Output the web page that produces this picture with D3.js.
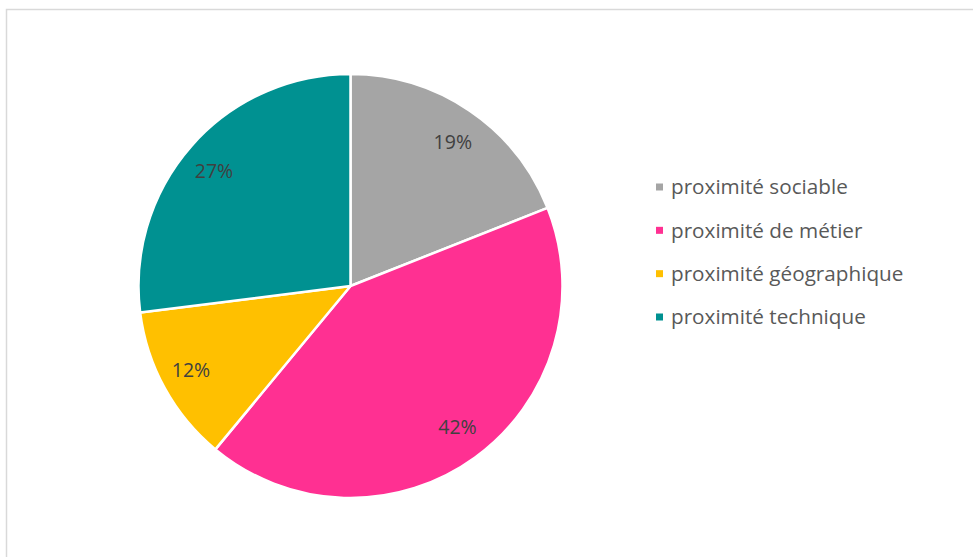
<!DOCTYPE html>
<html><head><meta charset="utf-8">
<script src="https://cdn.jsdelivr.net/npm/d3@7"></script>
<style>body{margin:0;background:#fff}svg{display:block}</style>
</head><body>
<svg id="c" width="973" height="557"></svg>
<script>
const categories = ["proximité sociable", "proximité de métier", "proximité géographique", "proximité technique"];
const values = [19, 42, 12, 27];
const colors = ["#A5A5A5", "#FF3092", "#FFC000", "#009191"];

const svg = d3.select("#c");
svg.append("rect").attr("x", 6.5).attr("y", 9.5).attr("width", 1000).attr("height", 600)
  .attr("fill", "#fff").attr("stroke", "#d9d9d9").attr("stroke-width", 1.5);

const cx = 350.5, cy = 286, r = 212;
const g = svg.append("g").attr("transform", `translate(${cx},${cy})`);
const pie = d3.pie().sort(null).value(d => d);
const arcs = pie(values);
const arc = d3.arc().innerRadius(0).outerRadius(r);
const color = d3.scaleOrdinal().domain(d3.range(values.length)).range(colors);

g.selectAll("path").data(arcs).join("path")
  .attr("d", arc).attr("fill", (d, i) => color(i))
  .attr("stroke", "#fff").attr("stroke-width", 2.5).attr("stroke-linejoin", "round");

const total = d3.sum(values);
const lx = 182, lyR = 174;
g.selectAll("text.lbl").data(arcs).join("text").attr("class", "lbl")
  .attr("transform", d => {
    const a = (d.startAngle + d.endAngle) / 2;
    return `translate(${Math.sin(a) * lx},${-Math.cos(a) * lyR})`;
  })
  .attr("text-anchor", "middle").attr("dy", "0.36em")
  .attr("font-family", "'Open Sans', sans-serif").attr("font-size", 19.5)
  .attr("fill", "#404040")
  .text(d => d3.format(".0%")(d.value / total));

const lg = svg.append("g").attr("transform", "translate(656,187)");
const ly = d3.scalePoint().domain(categories).range([0, 130]);
const item = lg.selectAll("g").data(categories).join("g")
  .attr("transform", d => `translate(0,${ly(d)})`);
item.append("rect").attr("x", 0).attr("y", -3.5).attr("width", 7).attr("height", 7)
  .attr("fill", (d, i) => color(i));
item.append("text").attr("x", 15).attr("dy", "0.35em")
  .attr("font-family", "'Open Sans', sans-serif").attr("font-size", 20.7)
  .attr("fill", "#595959").text(d => d);
</script>
</body></html>
